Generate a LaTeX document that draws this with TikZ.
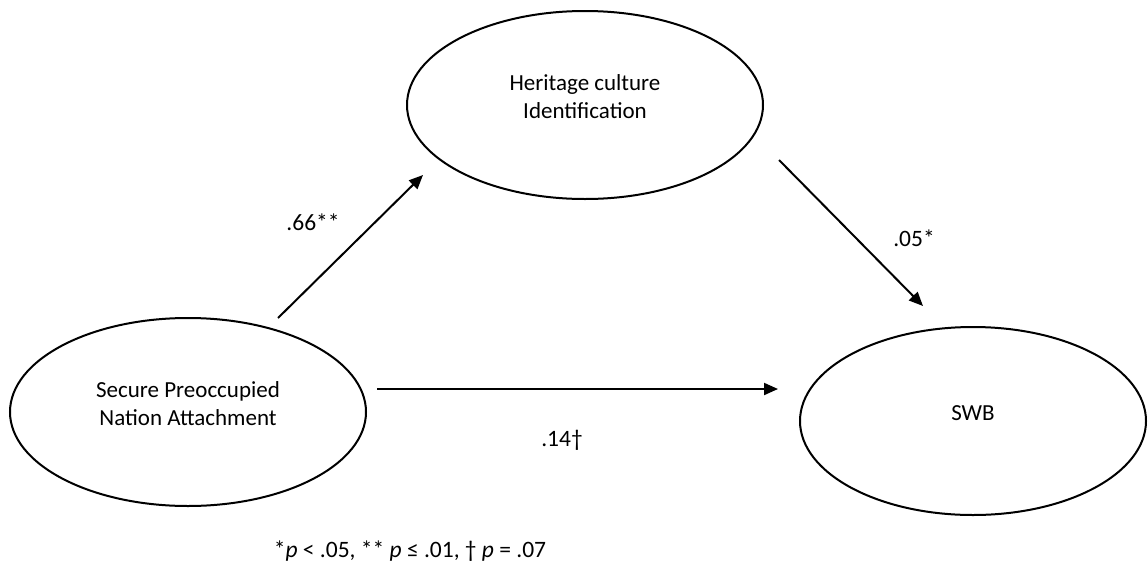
\documentclass[tikz,border=0pt]{standalone}
\usepackage{fontspec}
\setmainfont{Carlito}
\usetikzlibrary{arrows.meta,shapes.geometric}
\tikzset{
  construct/.style={ellipse,draw=black,line width=2pt,inner sep=0pt,
                    minimum width=356pt,minimum height=188pt,align=center,
                    text depth=16pt,font=\fontsize{23}{28}\selectfont},
  effect/.style={-{Triangle[length=14pt,width=12pt]},draw=black,line width=2pt},
  coef/.style={font=\fontsize{23.5}{26}\selectfont,inner sep=0pt},
}
\begin{document}
\begin{tikzpicture}[x=1pt,y=-1pt]
  \useasboundingbox (0,0) rectangle (1148,565);
  % the three constructs
  \node[construct] (spna) at (188,412) {Secure Preoccupied\\Nation Attachment};
  \node[construct] (hci)  at (585,105) {Heritage culture\\Identification};
  \node[construct,minimum width=346pt] (swb) at (973,421) {SWB};
  % free ends of the paths
  \coordinate (a1) at (278,318);
  \coordinate (a2) at (423,175);
  \coordinate (b1) at (779,160);
  \coordinate (b2) at (923,306);
  \coordinate (c1) at (377,389);
  \coordinate (c2) at (778,389);
  \draw[effect] (a1) -- (a2);
  \draw[effect] (b1) -- (b2);
  \draw[effect] (c1) -- (c2);
  % coefficients
  \node[coef] (k66) at (313,222) {.66**};
  \node[coef] (k05) at (914,238) {.05*};
  \node[coef] (k14) at (562,440) {.14\textdagger};
  \node[coef] (note) at (410,551) {*\textit{p} < .05, ** \textit{p} ≤ .01, \textdagger{} \textit{p} = .07};
\end{tikzpicture}
\end{document}
